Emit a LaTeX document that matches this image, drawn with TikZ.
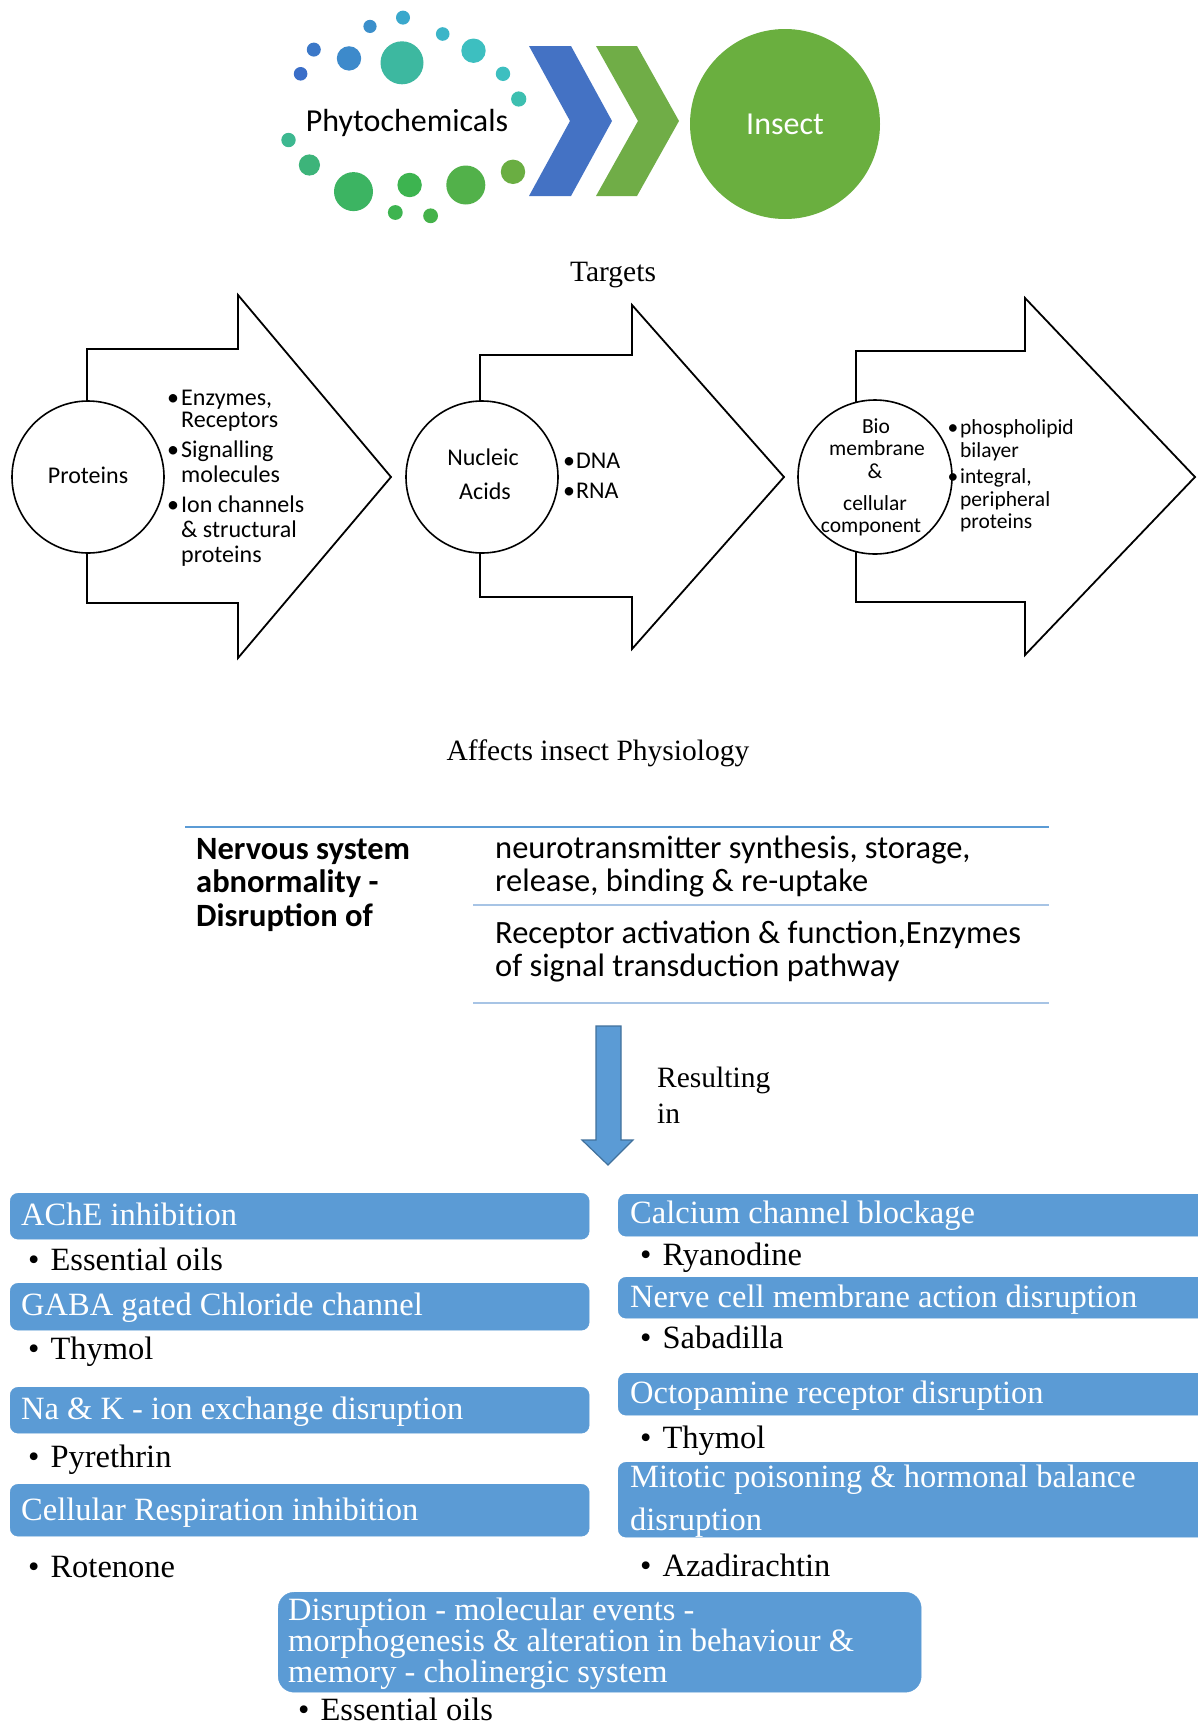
\documentclass[tikz,border=0pt]{standalone}
\usepackage{fontspec}
\setmainfont{Liberation Serif}
\newfontfamily\carl{Carlito}
\definecolor{boxblue}{HTML}{5B9BD5}
\definecolor{chevblue}{HTML}{4472C4}
\definecolor{chevgreen}{HTML}{70AD47}
\definecolor{insectgreen}{HTML}{6AAF3F}
\definecolor{ruletop}{HTML}{5B9BD5}
\definecolor{rulelight}{HTML}{A7C4E5}
\definecolor{arrowedge}{HTML}{41719C}
\begin{document}
\begin{tikzpicture}[x=1pt,y=-1pt,
  arrowbody/.style={draw=black,line width=1.8pt,fill=white,line join=miter},
  tcirc/.style={circle,draw=black,line width=1.6pt,fill=white,minimum size=152pt,inner sep=0pt},
  calA/.style={font=\carl\fontsize{24}{26}\selectfont,inner sep=0pt,anchor=base west},
  calAc/.style={font=\carl\fontsize{24}{26}\selectfont,inner sep=0pt,anchor=base},
  calB/.style={font=\carl\fontsize{21.5}{24}\selectfont,inner sep=0pt,anchor=base west},
  calBc/.style={font=\carl\fontsize{21.5}{24}\selectfont,inner sep=0pt,anchor=base},
  tabtxt/.style={font=\carl\fontsize{32.5}{34}\selectfont,inner sep=0pt,anchor=base west},
  tabbold/.style={font=\carl\bfseries\fontsize{32.5}{34}\selectfont,inner sep=0pt,anchor=base west},
  serifmid/.style={font=\fontsize{29.5}{35}\selectfont,inner sep=0pt,anchor=base},
  serifleft/.style={font=\fontsize{29.5}{35}\selectfont,inner sep=0pt,anchor=base west},
  bbox/.style={rectangle,rounded corners=8pt,fill=boxblue,draw=boxblue,anchor=north west,inner sep=0pt},
  btxt/.style={font=\fontsize{32.5}{36}\selectfont,text=white,inner sep=0pt,anchor=base west},
  bitem/.style={font=\fontsize{32.5}{36}\selectfont,text=black,inner sep=0pt,anchor=base west}
]
\useasboundingbox (0,0) rectangle (1197,1727);
\fill[white] (0,0) rectangle (1197,1727);

% ---------- top: phytochemicals -> insect ----------
\foreach \x/\y/\r/\col in {403/17.6/7/3AA8CC, 370/26.4/6.6/3B8FCB, 442.7/34/6.8/3BB5C8,
  313.8/49.6/7/3B78C8, 349/58.4/12.2/3D8ACB, 402/62.8/21.5/3DB8A0, 473.5/50.7/12.2/3DBFC0,
  300.6/73.8/6.8/3A6EC8, 503/73.8/7.2/3DBFC0, 518.7/99/7.6/3DBFB0, 288.5/140/7.2/3DB890,
  309.4/165/10.6/3DB47A, 353.5/191.6/19.5/3CB462, 409.6/185/12.2/3DB450, 465.8/185/19.5/52B14A,
  513/171.8/12.2/6AAE42, 395.3/212.5/7.4/3DB450, 430.6/215.8/7.4/45B24A}
  {\definecolor{dotc}{HTML}{\col}\fill[dotc] (\x,\y) circle[radius=\r];}
\node[font=\carl\fontsize{32}{38}\selectfont,anchor=base,inner sep=0pt] (phyto) at (407,131) {Phytochemicals};
\fill[chevblue] (529,46) -- (571,46) -- (612,121) -- (571,196) -- (529,196) -- (570,121) -- cycle;
\fill[chevgreen] (596,46) -- (637,46) -- (679,121) -- (637,196) -- (596,196) -- (638,121) -- cycle;
\node[circle,fill=insectgreen,minimum size=190pt,inner sep=0pt,text=white,
  font=\carl\fontsize{32}{38}\selectfont] (insect) at (785,124) {Insect};

\node[serifmid] (targets) at (613,281) {Targets};

% ---------- arrow 1: proteins ----------
\draw[arrowbody] (87,349) -- (238,349) -- (238,295) -- (391,477) -- (238,658) -- (238,603) -- (87,603) -- cycle;
\node[tcirc] (proteins) at (88,477) {};
\node[calAc] (proteinsl) at (88,483) {Proteins};
\node[calAc] (pb1) at (173,405) {•};
\node[calAc] (pb2) at (173,457) {•};
\node[calAc] (pb3) at (173,512) {•};
\node[calA] (pl1) at (181,405) {Enzymes,};
\node[calA] (pl2) at (181,427) {Receptors};
\node[calA] (pl3) at (181,457) {Signalling};
\node[calA] (pl4) at (181,482) {molecules};
\node[calA] (pl5) at (181,512) {Ion channels};
\node[calA] (pl6) at (181,537) {\& structural};
\node[calA] (pl7) at (181,562) {proteins};

% ---------- arrow 2: nucleic acids ----------
\draw[arrowbody] (480,355) -- (632,355) -- (632,305) -- (784,477) -- (632,649) -- (632,597) -- (480,597) -- cycle;
\node[tcirc] (nucleic) at (482,477) {};
\node[calAc] (nucl1) at (483,465) {Nucleic};
\node[calAc] (nucl2) at (485,499) {Acids};
\node[calAc] (nb1) at (569,468) {•};
\node[calAc] (nb2) at (569,498) {•};
\node[calA] (nl1) at (576,468) {DNA};
\node[calA] (nl2) at (576,498) {RNA};

% ---------- arrow 3: bio membrane ----------
\draw[arrowbody] (856,351) -- (1025,351) -- (1025,298) -- (1195,477) -- (1025,655) -- (1025,602) -- (856,602) -- cycle;
\node[tcirc,minimum size=154pt] (biomem) at (875,477) {};
\node[calBc] (bm1) at (876,433) {Bio};
\node[calBc] (bm2) at (877,455) {membrane};
\node[calBc] (bm3) at (875,478) {\&};
\node[calBc] (bm4) at (875,510) {cellular};
\node[calBc] (bm5) at (871,532) {component};
\node[calBc] (mb1) at (953,434) {•};
\node[calBc] (mb2) at (953,483) {•};
\node[calB] (ml1) at (960,434) {phospholipid};
\node[calB] (ml2) at (960,457) {bilayer};
\node[calB] (ml3) at (960,483) {integral,};
\node[calB] (ml4) at (960,506) {peripheral};
\node[calB] (ml5) at (960,528) {proteins};

\node[serifmid] (affects) at (598,760) {Affects insect Physiology};

% ---------- table ----------
\draw[ruletop,line width=2.5pt] (185,827) -- (1049,827);
\draw[rulelight,line width=2pt] (473,905) -- (1049,905);
\draw[rulelight,line width=2pt] (473,1003) -- (1049,1003);
\node[tabbold] (ns1) at (196,859) {Nervous system};
\node[tabbold] (ns2) at (196,892) {abnormality -};
\node[tabbold] (ns3) at (196,926) {Disruption of};
\node[tabtxt] (nt1) at (495,858) {neurotransmitter synthesis, storage,};
\node[tabtxt] (nt2) at (495,891) {release, binding \& re-uptake};
\node[tabtxt] (ra1) at (495,943) {Receptor activation \& function,Enzymes};
\node[tabtxt] (ra2) at (495,976) {of signal transduction pathway};

% ---------- down arrow ----------
\draw[fill=boxblue,draw=arrowedge,line width=1.2pt,line join=miter]
  (596,1026) -- (621,1026) -- (621,1140) -- (633,1140) -- (608,1165) -- (582,1140) -- (596,1140) -- cycle;
\node[serifleft] (res1) at (657,1087) {Resulting};
\node[serifleft] (res2) at (657,1123) {in};

% ---------- left column ----------
\node[bbox,minimum width=579pt,minimum height=46pt] (ache) at (10,1193) {};
\node[btxt] (achet) at (21,1225) {AChE inhibition};
\node[bitem] (achei) at (28,1270) {•\hspace{11pt}Essential oils};
\node[bbox,minimum width=579pt,minimum height=47pt] (gaba) at (10,1283) {};
\node[btxt] (gabat) at (21,1315) {GABA gated Chloride channel};
\node[bitem] (gabai) at (28,1359) {•\hspace{11pt}Thymol};
\node[bbox,minimum width=579pt,minimum height=46pt] (nak) at (10,1387) {};
\node[btxt] (nakt) at (21,1419) {Na \& K - ion exchange disruption};
\node[bitem] (naki) at (28,1467) {•\hspace{11pt}Pyrethrin};
\node[bbox,minimum width=579pt,minimum height=52pt] (cell) at (10,1484) {};
\node[btxt] (cellt) at (21,1520) {Cellular Respiration inhibition};
\node[bitem] (celli) at (28,1577) {•\hspace{11pt}Rotenone};

% ---------- right column ----------
\node[bbox,minimum width=600pt,minimum height=42pt] (calc) at (618,1194) {};
\node[btxt] (calct) at (630,1223) {Calcium channel blockage};
\node[bitem] (calci) at (640,1265) {•\hspace{11pt}Ryanodine};
\node[bbox,minimum width=600pt,minimum height=41pt] (nerve) at (618,1277) {};
\node[btxt] (nervet) at (630,1307) {Nerve cell membrane action disruption};
\node[bitem] (nervei) at (640,1348) {•\hspace{11pt}Sabadilla};
\node[bbox,minimum width=600pt,minimum height=42pt] (octo) at (618,1373) {};
\node[btxt] (octot) at (630,1403) {Octopamine receptor disruption};
\node[bitem] (octoi) at (640,1448) {•\hspace{11pt}Thymol};
\node[bbox,minimum width=600pt,minimum height=75pt] (mito) at (618,1462) {};
\node[btxt] (mitot1) at (630,1487) {Mitotic poisoning \& hormonal balance};
\node[btxt] (mitot2) at (630,1530) {disruption};
\node[bitem] (mitoi) at (640,1576) {•\hspace{11pt}Azadirachtin};

% ---------- bottom box ----------
\node[bbox,rounded corners=16pt,minimum width=643pt,minimum height=100pt] (chol) at (278,1592) {};
\node[btxt] (cholt1) at (288,1620) {Disruption - molecular events -};
\node[btxt] (cholt2) at (288,1651) {morphogenesis \& alteration in behaviour \&};
\node[btxt] (cholt3) at (288,1682) {memory - cholinergic system};
\node[bitem] (choli) at (298,1720) {•\hspace{11pt}Essential oils};
\end{tikzpicture}
\end{document}
